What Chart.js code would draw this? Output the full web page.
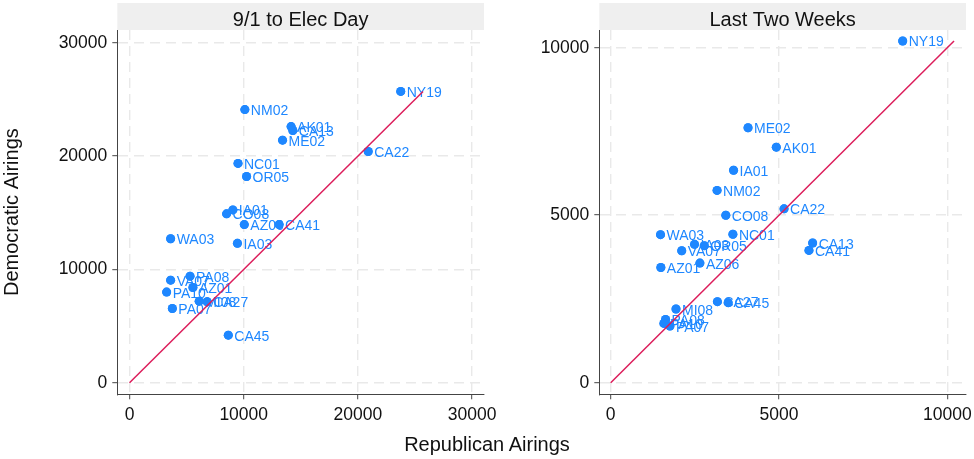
<!DOCTYPE html>
<html><head><meta charset="utf-8">
<script src="https://cdn.jsdelivr.net/npm/chart.js@4.4.1/dist/chart.umd.min.js"></script>
<style>
html,body{margin:0;padding:0;background:#fff;width:974px;height:459px;overflow:hidden;font-family:"Liberation Sans",Arial,sans-serif;}
.w{position:absolute;top:0;height:459px;}
#xt{position:absolute;left:0;width:974px;top:432px;text-align:center;font-size:20px;line-height:24px;color:#111;}
</style></head><body>
<div class="w" style="left:0;width:510px"><canvas id="c1"></canvas></div>
<div class="w" style="left:510px;width:464px"><canvas id="c2"></canvas></div>
<div id="xt">Republican Airings</div>
<script>
const districts = ["AK01","AZ01","AZ06","CA13","CA22","CA27","CA41","CA45","CO08","IA01","IA03","ME02","MI08","NC01","NM02","NY19","OR05","PA07","PA08","PA10","VA07","WA03"];
// 9/1 to Election Day
const repFull = [14150,5550,10050,14300,20900,6800,13100,8650,8500,9050,9450,13400,6100,9500,10100,23750,10250,3750,5300,3250,3600,3600];
const demFull = [22600,8400,13950,22250,20400,7150,13950,4200,14900,15250,12300,21400,7200,19350,24100,25700,18200,6550,9400,8000,9050,12700];
// Last two weeks
const repLast = [4920,1490,2650,6000,5150,3170,5890,3490,3420,3650,2490,4080,1940,3630,3160,8675,2780,1760,1630,1580,2110,1480];
const demLast = [7030,3440,3570,4170,5190,2420,3950,2390,5000,6340,4130,7610,2200,4430,5740,10200,4090,1690,1890,1770,3940,4420];
const ticksFull = [0,10000,20000,30000];
const ticksLast = [0,5000,10000];
const panelTitles = ["9/1 to Elec Day","Last Two Weeks"];
const yTitle = "Democratic Airings";

const FONT = '"Liberation Sans", Arial, sans-serif';
const BLUE = '#1e87ff';
const RED = '#dc1d5b';
const GRID = '#e9e9e9';
const AXIS = '#444';

const headerPlugin = {
  id:'header',
  beforeDraw(chart){
    const {ctx, chartArea:{left,right}} = chart;
    ctx.save();
    ctx.fillStyle = '#efefef';
    ctx.fillRect(left, 3, right-left, 27);
    ctx.fillStyle = '#111';
    ctx.font = '20px ' + FONT;
    ctx.textAlign = 'center';
    ctx.textBaseline = 'alphabetic';
    ctx.fillText(chart.options.plugins.header.text, (left+right)/2, 25.5);
    ctx.restore();
  }
};
const labelPlugin = {
  id:'pointLabels',
  afterDatasetDraw(chart, args){
    if (args.index !== 0) return;
    const ctx = chart.ctx;
    ctx.save();
    ctx.font = '14px ' + FONT;
    ctx.fillStyle = BLUE;
    ctx.textAlign = 'left';
    ctx.textBaseline = 'alphabetic';
    args.meta.data.forEach((pt,i)=>{
      pt.draw(ctx, chart.chartArea);
      ctx.fillText(districts[i], pt.x + 6, pt.y + 5.5);
    });
    ctx.restore();
  }
};

function axis(min, max, ticks, fitKey, fitVal, extra){
  return Object.assign({
    type:'linear', min:min, max:max,
    afterBuildTicks: s => { s.ticks = ticks.map(v => ({value:v})); },
    afterFit: s => { s[fitKey] = fitVal; s.paddingLeft = 0; s.paddingRight = 0; s.paddingTop = 0; s.paddingBottom = 0; },
    grid:{ color:GRID, lineWidth:1.4, drawTicks:true, tickLength:5, tickColor:AXIS, tickWidth:1, tickBorderDash:[] },
    border:{ display:true, color:AXIS, width:1, dash:[10,6] },
    ticks:{ color:'#111', font:{size:17.5, family:FONT}, padding:5, maxRotation:0, autoSkip:false, callback:v => String(v) }
  }, extra || {});
}

function makeChart(id, rep, dem, ticks, xr, yr, title, yWidth, padRight, showYTitle){
  const maxV = Math.max(...rep, ...dem);
  return new Chart(document.getElementById(id), {
    type:'scatter',
    data:{ datasets:[
      { type:'scatter', data: rep.map((r,i)=>({x:r, y:dem[i]})), pointRadius:4.5, pointHoverRadius:4.5, backgroundColor:BLUE, borderWidth:0, order:1 },
      { type:'line', data:[{x:0,y:0},{x:maxV,y:maxV}], borderColor:RED, borderWidth:1.5, pointRadius:0, fill:false, order:0 }
    ]},
    options:{
      responsive:true, maintainAspectRatio:false, animation:false,
      layout:{ padding:{ top:30, right:padRight, bottom:0, left:0 } },
      plugins:{ legend:{display:false}, tooltip:{enabled:false}, header:{ text:title } },
      scales:{
        x: axis(xr[0], xr[1], ticks, 'height', 64.7, {}),
        y: axis(yr[0], yr[1], ticks, 'width', yWidth, {
          title:{ display:showYTitle, text:yTitle, color:'#111', font:{size:20, family:FONT}, padding:{top:0,bottom:0} }
        })
      }
    },
    plugins:[headerPlugin, labelPlugin]
  });
}

makeChart('c1', repFull, demFull, ticksFull, [-1070, 31040], [-1020, 31120], panelTitles[0], 117.3, 26, true);
makeChart('c2', repLast, demLast, ticksLast, [-339, 10556], [-346, 10528], panelTitles[1], 89.3, 8, false);
</script>
</body></html>
